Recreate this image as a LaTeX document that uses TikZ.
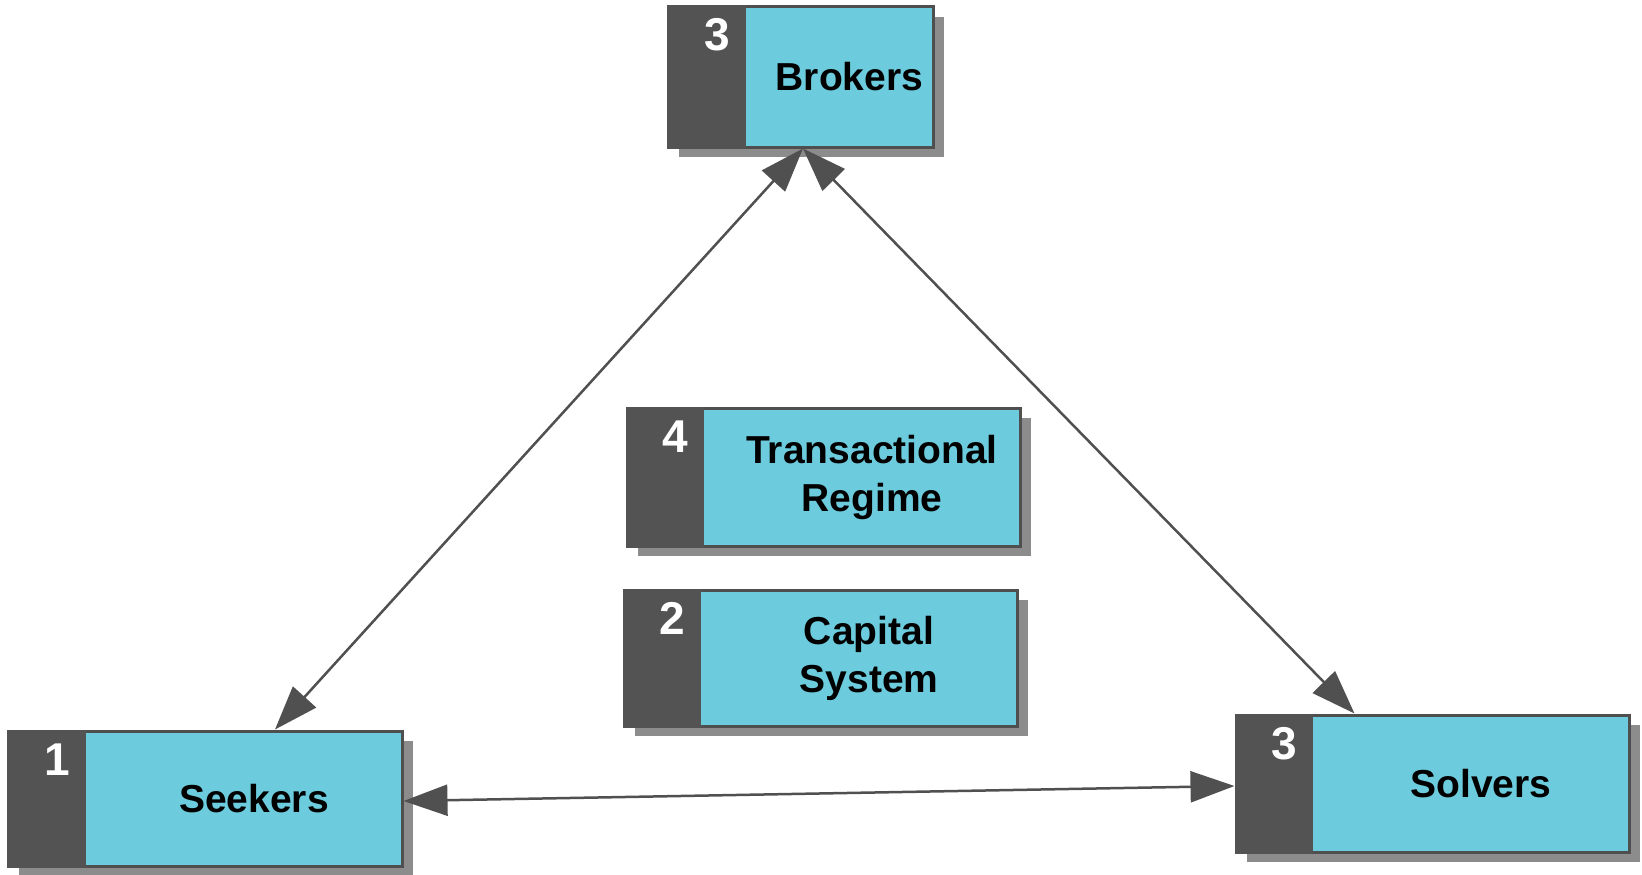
\documentclass[tikz,border=0pt]{standalone}
\usepackage{fontspec}
\setmainfont{Liberation Sans}
\usetikzlibrary{arrows.meta,calc}
\definecolor{boxblue}{HTML}{6CCBDC}
\definecolor{stripgray}{HTML}{535353}
\definecolor{bordergray}{HTML}{4F4F4F}
\definecolor{shadowgray}{HTML}{8C8C8C}
\definecolor{arrowgray}{HTML}{505050}
\newcommand\panel[8]{%
  \fill[shadowfill] ({#2-#4/2+11},{#3-#5/2+10}) rectangle ({#2+#4/2+11},{#3+#5/2+10});
  \node[mainbox, minimum width=#4pt, minimum height=#5pt] (#1) at (#2,#3) {};
  \fill[stripfill] (#1.north west) rectangle ($(#1.south west)+(#6+1.5,0)$);
  \node[numlabel] (#1-num) at ($(#1.north west)+(#6+1.5-16,45.5)$) {#7};
  \node[boxlabel] (#1-text) at ($(#1.center)+(#6/2+10,0)$) {#8};
}
\begin{document}
\begin{tikzpicture}[x=1pt,y=-1pt,
  mainbox/.style={fill=boxblue, draw=bordergray, line width=3pt, inner sep=0pt},
  shadowfill/.style={fill=shadowgray},
  stripfill/.style={fill=stripgray},
  numlabel/.style={text=white, font=\fontsize{46}{46}\selectfont\bfseries, inner sep=0pt, anchor=base east},
  boxlabel/.style={text=black, font=\fontsize{39}{48}\selectfont\bfseries, align=center, inner sep=0pt},
  link/.style={draw=arrowgray, line width=2.5pt, {Triangle[length=44pt,width=31pt]}-{Triangle[length=44pt,width=31pt]}}
]
\useasboundingbox (0,0) rectangle (1642,875);
\panel{brokers}{800.5}{77}{265}{140}{78}{3}{Brokers}
\panel{trans}{823.5}{477}{393}{138}{77}{4}{Transactional\\Regime}
\panel{capital}{820.5}{658}{393}{136}{77}{2}{Capital\\System}
\panel{seekers}{205}{798.5}{394}{135}{78}{1}{Seekers}
\panel{solvers}{1432.5}{783.5}{393}{137}{77}{3}{Solvers}
\draw[link] ([xshift=70pt]seekers.north) -- ([xshift=2.5pt]brokers.south);
\draw[link] ([xshift=-78pt]solvers.north) -- ([xshift=2.5pt]brokers.south);
\draw[link] ([yshift=-2.5pt]seekers.east) -- ([yshift=-2.5pt]solvers.west);
\end{tikzpicture}
\end{document}
